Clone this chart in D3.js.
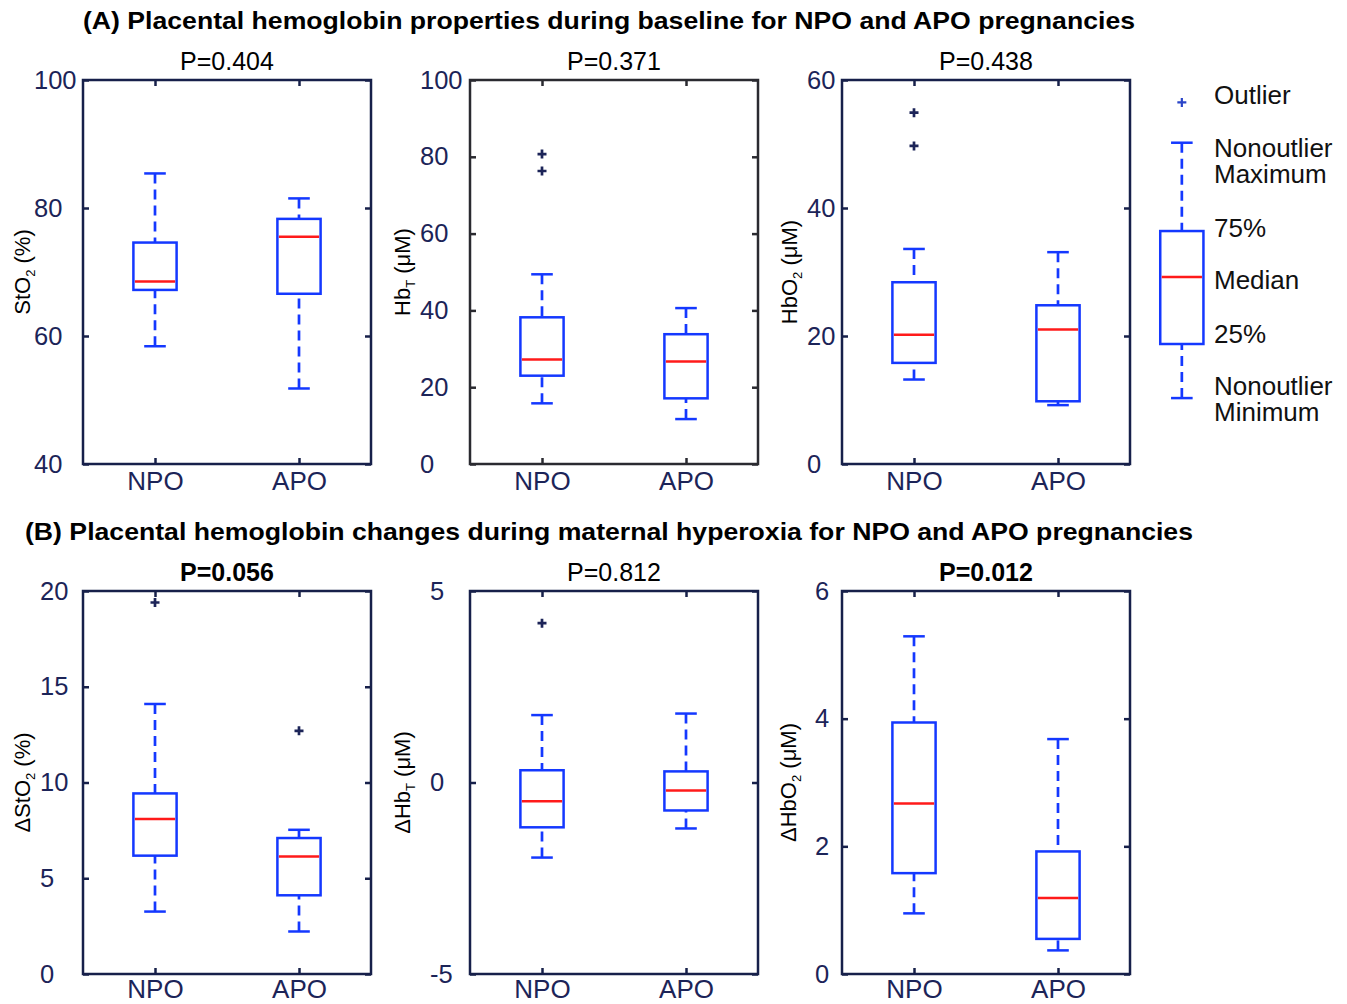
<!DOCTYPE html>
<html>
<head>
<meta charset="utf-8">
<script src="https://cdn.jsdelivr.net/npm/d3@7"></script>
<style>
  body { margin: 0; background: #fff; }
  svg { display: block; font-family: "Liberation Sans", Arial, sans-serif; }
</style>
</head>
<body>
<div id="chart"></div>
<script>
/**
 * DATA
 * stats per group: [nonoutlier min, 25%, median, 75%, nonoutlier max]
 * */
const categories = ["NPO", "APO"];

const stO2Stats = [[58.4, 67.2, 68.5, 74.6, 85.4], [51.8, 66.6, 75.5, 78.3, 81.5]];
const hbTStats = [[15.8, 23.0, 27.2, 38.2, 49.4], [11.7, 17.1, 26.7, 33.8, 40.6]];
const hbO2Stats = [[13.2, 15.8, 20.2, 28.4, 33.6], [9.2, 9.8, 21.0, 24.8, 33.1]];
const dStO2Stats = [[3.26, 6.18, 8.1, 9.43, 14.1], [2.22, 4.11, 6.13, 7.1, 7.53]];
const dHbTStats = [[-1.96, -1.17, -0.49, 0.32, 1.76], [-1.2, -0.73, -0.21, 0.29, 1.8]];
const dHbO2Stats = [[0.95, 1.58, 2.67, 3.94, 5.29], [0.37, 0.55, 1.19, 1.92, 3.68]];

const stO2Outliers = [[], []];
const hbTOutliers = [[80.7, 76.3], []];
const hbO2Outliers = [[54.9, 49.7], []];
const dStO2Outliers = [[19.4], [12.7]];
const dHbTOutliers = [[4.16], []];
const dHbO2Outliers = [[], []];

const yDomains = [[40, 100], [0, 100], [0, 60], [0, 20], [-5, 5], [0, 6]];
const yTicks = [[40, 60, 80, 100], [0, 20, 40, 60, 80, 100], [0, 20, 40, 60],
  [0, 5, 10, 15, 20], [-5, 0, 5], [0, 2, 4, 6]];

const pValues = ["P=0.404", "P=0.371", "P=0.438", "P=0.056", "P=0.812", "P=0.012"];
const pSignificant = [false, false, false, true, false, true];

// y titles: [prefix, main, subscript, unit]
const yTitles = [["", "StO", "2", " (%)"], ["", "Hb", "T", " (\u03bcM)"], ["", "HbO", "2", " (\u03bcM)"],
  ["\u0394", "StO", "2", " (%)"], ["\u0394", "Hb", "T", " (\u03bcM)"], ["\u0394", "HbO", "2", " (\u03bcM)"]];

const rowTitles = [
  "(A) Placental hemoglobin properties during baseline for NPO and APO pregnancies",
  "(B) Placental hemoglobin changes during maternal hyperoxia for NPO and APO pregnancies"
];

// legend schematic, in the units of the top right panel
const legendStats = [10.3, 18.75, 29.2, 36.4, 50.2];
const legendOutlier = 56.5;
const legendLabels = [["Outlier"], ["Nonoutlier", "Maximum"], ["75%"], ["Median"], ["25%"], ["Nonoutlier", "Minimum"]];

const allStats = [stO2Stats, hbTStats, hbO2Stats, dStO2Stats, dHbTStats, dHbO2Stats];
const allOutliers = [stO2Outliers, hbTOutliers, hbO2Outliers, dStO2Outliers, dHbTOutliers, dHbO2Outliers];

/**
 * LAYOUT
 * */
const width = 1347, height = 1004;
const colLeft = [83, 470, 842], panelW = 288;
const rowBox = [{ top: 80, bottom: 464 }, { top: 591, bottom: 974 }];
const tickLabelX = [34, 420, 807, 40, 430, 815];
const yTitleX = [22, 402, 789, 22, 402, 788];
const titleSpan = [[83, 1135], [25, 1193]];

const navy = "#1c2458";
const frameColor = ["#17204a", "#2a2a30", "#17204a", "#17204a", "#17204a", "#17204a"];
const boxBlue = "#1438ff";
const medianRed = "#ff1a1a";

const svg = d3.select("#chart").append("svg")
  .attr("width", width)
  .attr("height", height);

// row titles
rowTitles.forEach((t, r) => {
  svg.append("text")
    .attr("x", titleSpan[r][0])
    .attr("y", r === 0 ? 29 : 540)
    .attr("font-size", 24)
    .attr("font-weight", "bold")
    .attr("textLength", titleSpan[r][1] - titleSpan[r][0])
    .attr("lengthAdjust", "spacingAndGlyphs")
    .attr("fill", "#000")
    .text(t);
});

let panelScales = [];

d3.range(6).forEach(i => {
  const r = Math.floor(i / 3), c = i % 3;
  const left = colLeft[c], right = left + panelW;
  const top = rowBox[r].top, bottom = rowBox[r].bottom;

  const x = d3.scaleLinear().domain([0.5, 2.5]).range([left, right]);
  const y = d3.scaleLinear().domain(yDomains[i]).range([bottom, top]);
  panelScales.push({ x, y });

  const g = svg.append("g").attr("class", "panel");

  // left axis with inward ticks, labels left aligned (plain hyphen for negatives)
  const yAxisG = g.append("g")
    .attr("transform", `translate(${left},0)`)
    .call(d3.axisLeft(y).tickValues(yTicks[i]).tickSize(-6).tickFormat(d => String(d)));
  yAxisG.select(".domain").remove();
  yAxisG.selectAll("line").attr("stroke", frameColor[i]).attr("stroke-width", 2.5);
  yAxisG.selectAll("text")
    .attr("text-anchor", "start")
    .attr("x", tickLabelX[i] - left)
    .attr("font-size", 25.5)
    .attr("font-family", "Liberation Sans, Arial, sans-serif")
    .attr("fill", navy);

  // right axis ticks
  const yAxisR = g.append("g")
    .attr("transform", `translate(${right},0)`)
    .call(d3.axisRight(y).tickValues(yTicks[i]).tickSize(-6).tickFormat(""));
  yAxisR.select(".domain").remove();
  yAxisR.selectAll("line").attr("stroke", frameColor[i]).attr("stroke-width", 2.5);

  // top axis ticks
  const xAxisT = g.append("g")
    .attr("transform", `translate(0,${top})`)
    .call(d3.axisTop(x).tickValues([1, 2]).tickSize(-6).tickFormat(""));
  xAxisT.select(".domain").remove();
  xAxisT.selectAll("line").attr("stroke", frameColor[i]).attr("stroke-width", 2.5);

  // bottom axis with category labels
  const xAxisB = g.append("g")
    .attr("transform", `translate(0,${bottom})`)
    .call(d3.axisBottom(x).tickValues([1, 2]).tickSize(-6).tickPadding(r === 0 ? 8 : 6)
      .tickFormat(d => categories[d - 1]));
  xAxisB.select(".domain").remove();
  xAxisB.selectAll("line").attr("stroke", frameColor[i]).attr("stroke-width", 2.5);
  xAxisB.selectAll("text")
    .attr("font-size", 26)
    .attr("font-family", "Liberation Sans, Arial, sans-serif")
    .attr("fill", navy);

  // frame
  g.append("rect")
    .attr("x", left).attr("y", top)
    .attr("width", panelW).attr("height", bottom - top)
    .attr("fill", "none")
    .attr("stroke", frameColor[i])
    .attr("stroke-width", 2.5);

  // p value
  g.append("text")
    .attr("x", (left + right) / 2)
    .attr("y", top - 10)
    .attr("text-anchor", "middle")
    .attr("font-size", 25)
    .attr("font-weight", pSignificant[i] ? "bold" : "normal")
    .attr("fill", "#000")
    .text(pValues[i]);

  // y title
  const yt = yTitles[i];
  const t = g.append("text")
    .attr("transform", `translate(${yTitleX[i]},${(top + bottom) / 2}) rotate(-90)`)
    .attr("text-anchor", "middle")
    .attr("dy", "0.36em")
    .attr("font-size", 22)
    .attr("fill", "#000");
  t.append("tspan").text(yt[0] + yt[1]);
  t.append("tspan").attr("font-size", 13).attr("dy", 5).text(yt[2]);
  t.append("tspan").attr("dy", -5).text(yt[3]);

  drawBoxes(g, allStats[i], allOutliers[i], x, y, [1, 2]);
});

function drawBoxes(g, stats, outliers, x, y, positions) {
  const boxHalf = 0.15, capHalf = 0.075;
  const groups = g.selectAll(".box")
    .data(stats.map((s, k) => ({ s, pos: positions[k], out: outliers[k] })))
    .join("g")
    .attr("class", "box");

  // whiskers (dashed), drawn from cap towards box
  groups.append("line")
    .attr("x1", d => x(d.pos)).attr("x2", d => x(d.pos))
    .attr("y1", d => y(d.s[4])).attr("y2", d => y(d.s[3]))
    .attr("stroke", boxBlue).attr("stroke-width", 2.7)
    .attr("stroke-dasharray", "10,6");
  groups.append("line")
    .attr("x1", d => x(d.pos)).attr("x2", d => x(d.pos))
    .attr("y1", d => y(d.s[0])).attr("y2", d => y(d.s[1]))
    .attr("stroke", boxBlue).attr("stroke-width", 2.7)
    .attr("stroke-dasharray", "10,6");

  // caps
  [0, 4].forEach(k => {
    groups.append("line")
      .attr("x1", d => x(d.pos - capHalf)).attr("x2", d => x(d.pos + capHalf))
      .attr("y1", d => y(d.s[k])).attr("y2", d => y(d.s[k]))
      .attr("stroke", boxBlue).attr("stroke-width", 2.5);
  });

  // box
  groups.append("rect")
    .attr("x", d => x(d.pos - boxHalf))
    .attr("width", d => x(d.pos + boxHalf) - x(d.pos - boxHalf))
    .attr("y", d => y(d.s[3]))
    .attr("height", d => y(d.s[1]) - y(d.s[3]))
    .attr("fill", "#fff")
    .attr("stroke", boxBlue).attr("stroke-width", 2.5);

  // median
  groups.append("line")
    .attr("x1", d => x(d.pos - boxHalf) + 1.5).attr("x2", d => x(d.pos + boxHalf) - 1.5)
    .attr("y1", d => y(d.s[2])).attr("y2", d => y(d.s[2]))
    .attr("stroke", medianRed).attr("stroke-width", 2.5);

  // outliers as "+"
  groups.each(function (d) {
    d3.select(this).selectAll(".out")
      .data(d.out)
      .join("path")
      .attr("class", "out")
      .attr("d", v => `M${x(d.pos) - 4.5},${y(v)}h9M${x(d.pos)},${y(v) - 4.5}v9`)
      .attr("stroke", navy)
      .attr("stroke-width", 2.7);
  });
}

// LEGEND — schematic box drawn on the top right panel's scales
const legX = panelScales[2].x, legY = panelScales[2].y;
const legG = svg.append("g").attr("class", "legend");
drawBoxes(legG, [legendStats], [[legendOutlier]], legX, legY, [2.86]);
legG.selectAll(".out").attr("stroke", "#2a45c8").attr("stroke-width", 2.2);

// two-line labels kept in one text element
const legendTextY = [104, 157, 237, 289, 343, 395];
legG.selectAll(".legend-label")
  .data(legendLabels)
  .join("text")
  .attr("class", "legend-label")
  .attr("y", (d, k) => legendTextY[k])
  .attr("font-size", 26)
  .attr("fill", "#111")
  .selectAll("tspan")
  .data(d => d)
  .join("tspan")
  .attr("x", 1214)
  .attr("dy", (d, j) => j === 0 ? 0 : 26)
  .text(d => d);
</script>
</body>
</html>
